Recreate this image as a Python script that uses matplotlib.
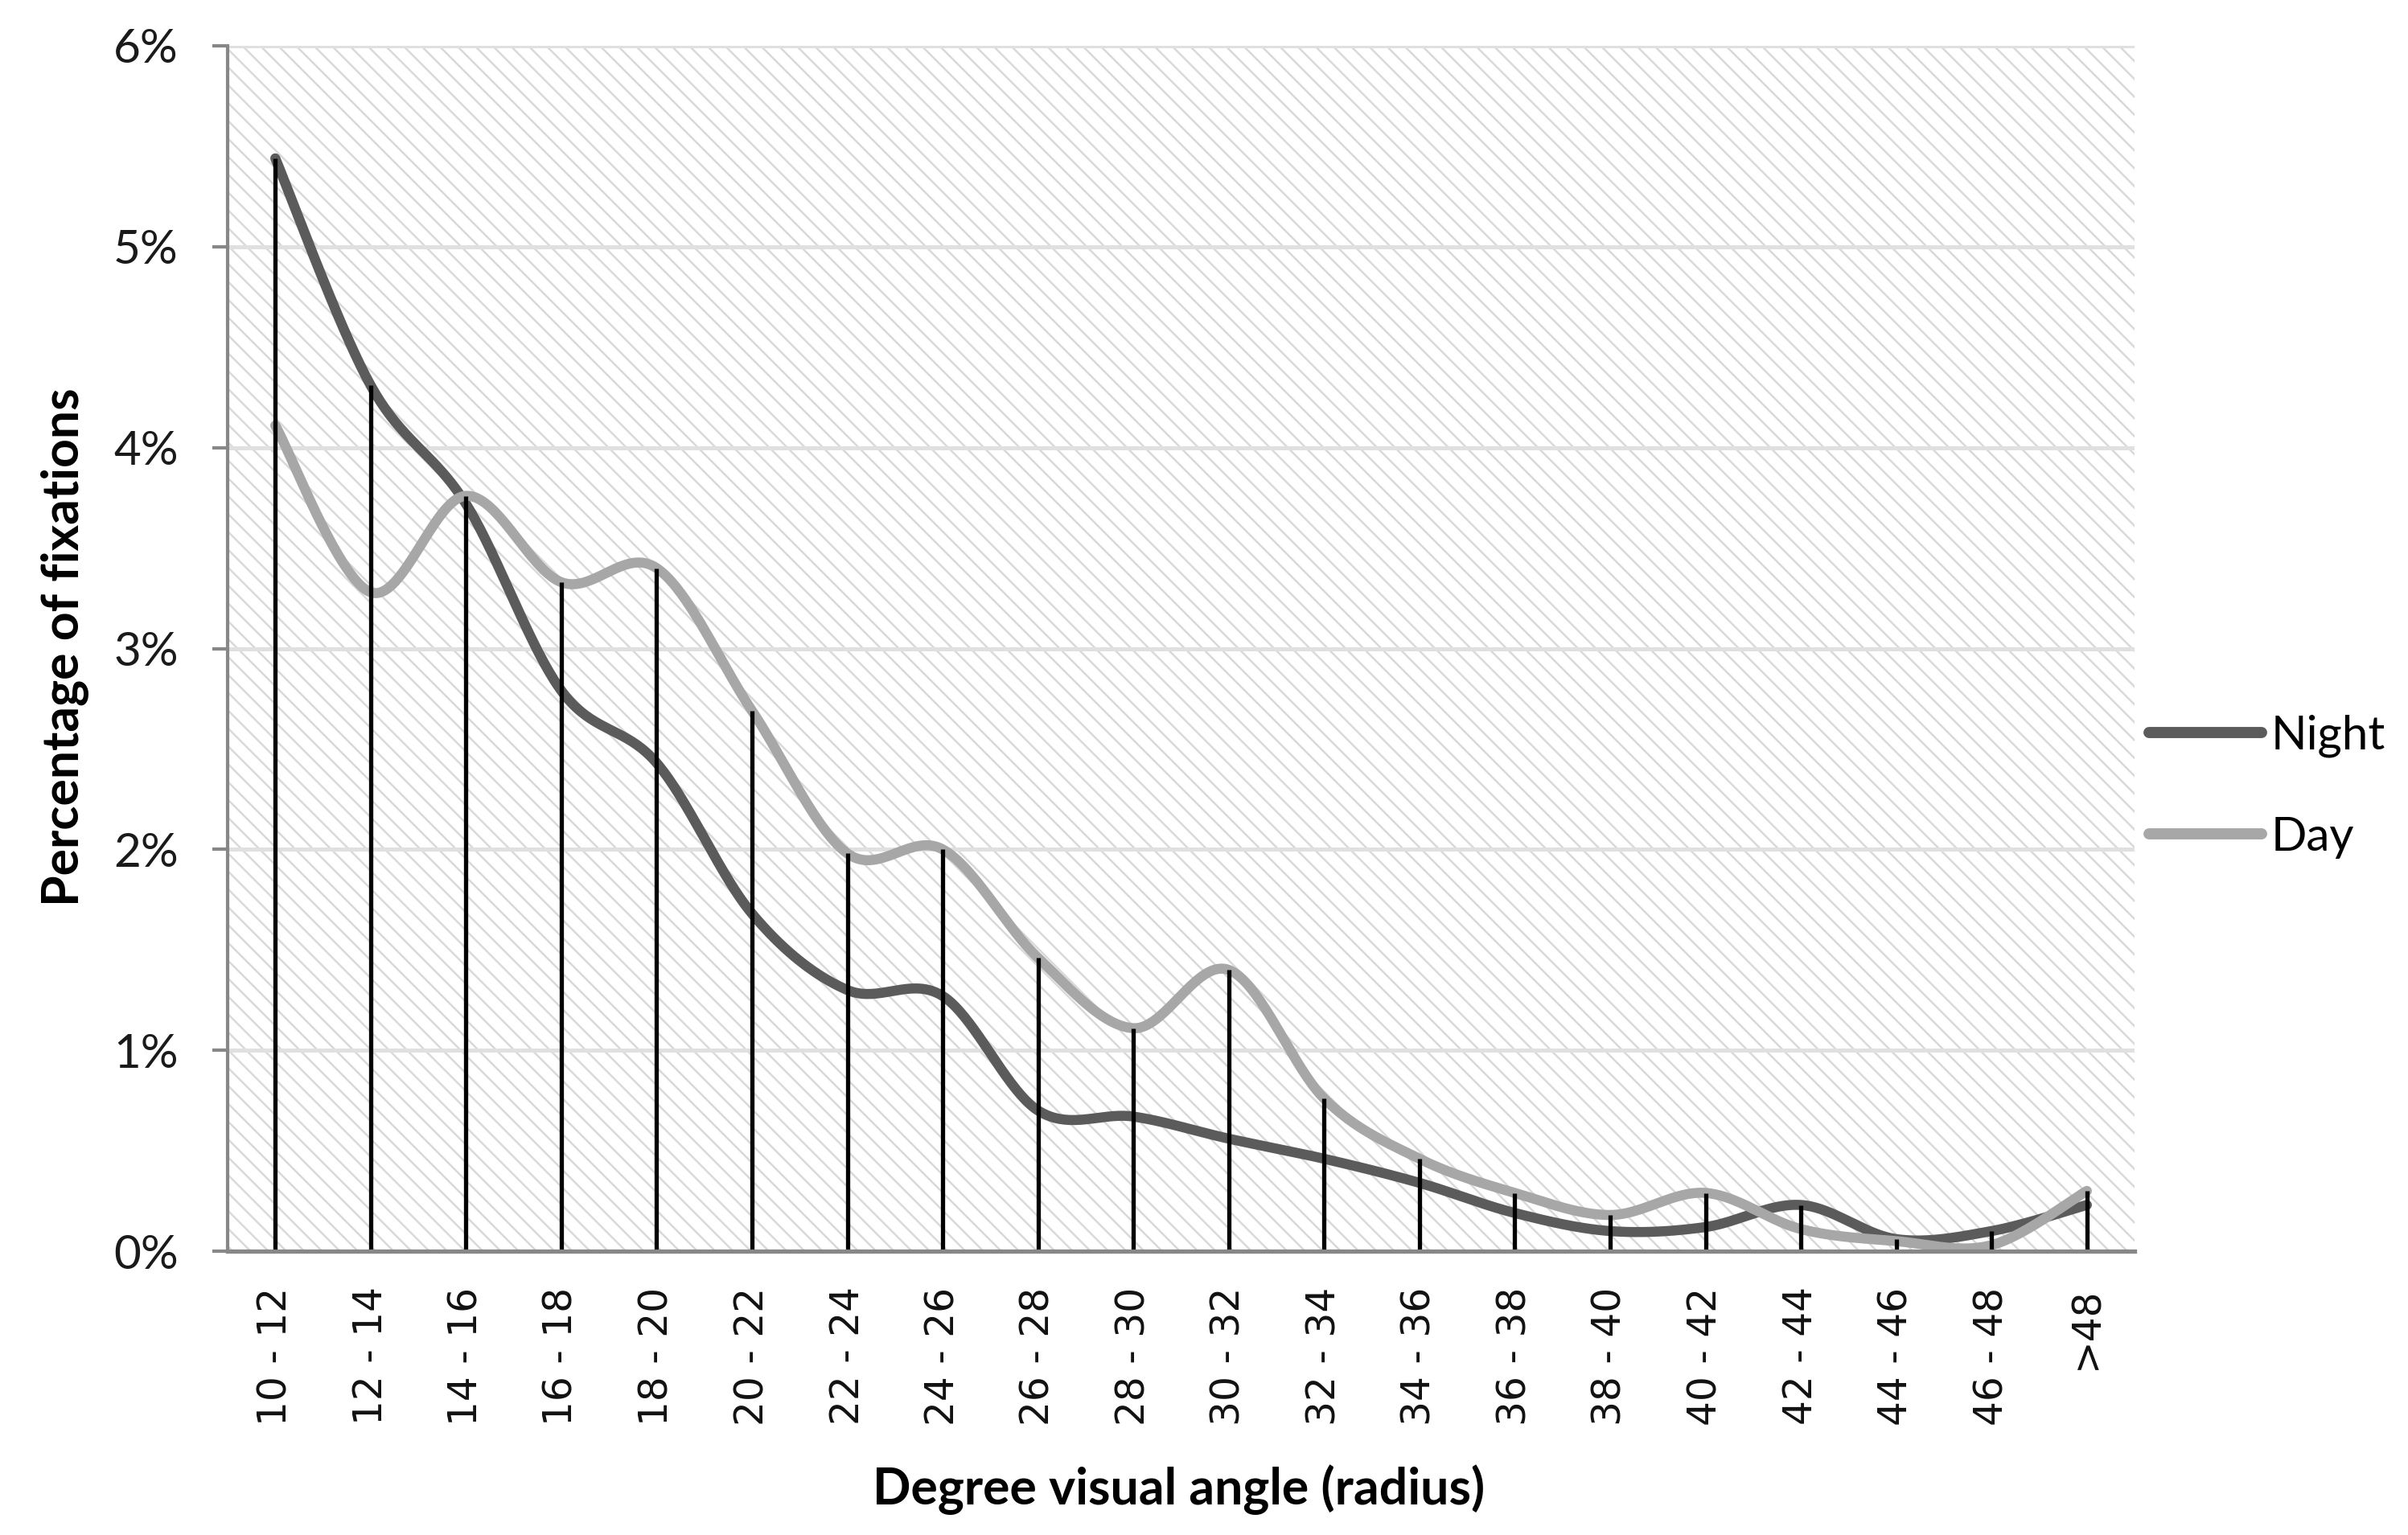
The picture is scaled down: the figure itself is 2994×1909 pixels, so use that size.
import numpy as np
import matplotlib
matplotlib.use("Agg")
import matplotlib.pyplot as plt
from matplotlib.patches import Rectangle
from matplotlib.lines import Line2D

# ---- data (percent of fixations) ----
categories = ["10 - 12", "12 - 14", "14 - 16", "16 - 18", "18 - 20", "20 - 22",
              "22 - 24", "24 - 26", "26 - 28", "28 - 30", "30 - 32", "32 - 34",
              "34 - 36", "36 - 38", "38 - 40", "40 - 42", "42 - 44", "44 - 46",
              "46 - 48", ">48"]
night = [5.44, 4.31, 3.72, 2.79, 2.43, 1.68, 1.30, 1.27, 0.70, 0.67,
         0.56, 0.46, 0.34, 0.19, 0.10, 0.12, 0.23, 0.06, 0.10, 0.23]
day = [4.11, 3.28, 3.76, 3.33, 3.40, 2.69, 1.98, 2.00, 1.46, 1.11,
       1.40, 0.76, 0.46, 0.29, 0.18, 0.29, 0.11, 0.05, 0.03, 0.30]
series_names = ["Night", "Day"]
y_ticks = [0, 1, 2, 3, 4, 5, 6]
y_tick_labels = [f"{v}%" for v in y_ticks]
x_title = "Degree visual angle (radius)"
y_title = "Percentage of fixations"

NIGHT_C = "#5b5b5b"
DAY_C = "#a7a7a7"
AXIS_C = "#878787"


def excel_smooth(xv, yv, n=40):
    """Excel-style smoothed line: cubic Bezier segments (Catmull-Rom)."""
    pts = np.column_stack([np.asarray(xv, float), np.asarray(yv, float)])
    P = np.vstack([pts[0], pts, pts[-1]])
    t = np.linspace(0, 1, n)[:, None]
    out = []
    for i in range(len(pts) - 1):
        p0, p1, p2, p3 = P[i], P[i + 1], P[i + 2], P[i + 3]
        c1 = p1 + (p2 - p0) / 6.0
        c2 = p2 - (p3 - p1) / 6.0
        seg = ((1 - t) ** 3) * p1 + 3 * ((1 - t) ** 2) * t * c1 \
            + 3 * (1 - t) * t ** 2 * c2 + t ** 3 * p2
        out.append(seg if i == 0 else seg[1:])
    return np.vstack(out)


fig = plt.figure(figsize=(14.97, 9.545), dpi=200)
fig.patch.set_facecolor("white")
left, right = 283 / 2994, 2654 / 2994
bottom, top = 1 - 1556 / 1909, 1 - 57 / 1909
ax = fig.add_axes([left, bottom, right - left, top - bottom])

x = np.arange(len(categories))
ax.set_xlim(-0.5, len(categories) - 0.5)
ax.set_ylim(0, 6)

# hatched plot-area background
plt.rcParams["hatch.linewidth"] = 0.9
bg = Rectangle((0, 0), 1, 1, transform=ax.transAxes, facecolor="white",
               edgecolor="#d9d9d9", linewidth=0, hatch="\\\\\\", zorder=0.1)
ax.add_patch(bg)

# gridlines
ax.set_axisbelow(True)
ax.yaxis.grid(True, color="#e0e0e0", linewidth=1.8, zorder=0.5)
ax.xaxis.grid(False)

# series (smoothed)
for vals, col, name in [(night, NIGHT_C, series_names[0]), (day, DAY_C, series_names[1])]:
    sm = excel_smooth(x, vals)
    ax.plot(sm[:, 0], sm[:, 1], color=col, linewidth=4.5, solid_capstyle="round",
            solid_joinstyle="round", zorder=3, label=name)

# drop lines
ax.vlines(x, 0, np.maximum(night, day), colors="black", linewidth=1.9, zorder=4)

# axes styling
for s in ["top", "right"]:
    ax.spines[s].set_visible(False)
ax.spines["left"].set_color(AXIS_C)
ax.spines["left"].set_linewidth(1.5)
ax.spines["bottom"].set_color(AXIS_C)
ax.spines["bottom"].set_linewidth(1.9)
ax.spines["left"].set_zorder(5)
ax.spines["bottom"].set_zorder(5)

ax.set_yticks(y_ticks)
ax.set_yticklabels(y_tick_labels, family="Lato", fontsize=21, color="#1a1a1a")
ax.tick_params(axis="y", length=7, width=1.5, color=AXIS_C, pad=15)

ax.set_xticks(x)
ax.set_xticklabels(categories, rotation=90, family="DejaVu Sans", fontsize=17.5,
                   color="#111111")
ax.tick_params(axis="x", length=0, pad=16)

# axis titles
fig.text(1466 / 2994, 1 - 1853 / 1909, x_title, ha="center", va="center",
         family="Lato", fontweight="bold", fontsize=22.5)
fig.text(80 / 2994, 1 - 805 / 1909, y_title, ha="center", va="center",
         rotation=90, family="Lato", fontweight="bold", fontsize=22.5)

# legend
handles = [Line2D([], [], color=NIGHT_C, linewidth=5, solid_capstyle="round"),
           Line2D([], [], color=DAY_C, linewidth=5, solid_capstyle="round")]
leg = ax.legend(handles, series_names, loc="center left",
                bbox_to_anchor=(2672 / 2994, 1 - 978 / 1909),
                bbox_transform=fig.transFigure, frameon=False,
                prop={"family": "Lato", "size": 21}, handlelength=2.4,
                handletextpad=0.2, labelspacing=1.25, borderpad=0,
                borderaxespad=0)

fig.savefig("out.png", dpi=200, facecolor="white")
